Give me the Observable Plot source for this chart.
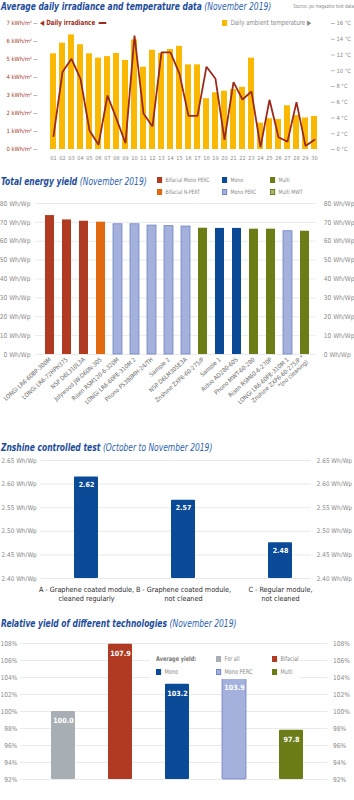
<!DOCTYPE html>
<html><head><meta charset="utf-8">
<script src="https://cdn.jsdelivr.net/npm/d3@7"></script>
<script src="https://cdn.jsdelivr.net/npm/@observablehq/plot@0.6"></script>
<style>
body{margin:0;background:#fff;}
#root{position:relative;width:354px;height:800px;overflow:hidden;font-family:"DejaVu Sans Condensed","DejaVu Sans",sans-serif;font-stretch:condensed;}
.abs{position:absolute;white-space:nowrap;}
.title{font-weight:bold;font-style:italic;color:#1c4c9a;font-size:10.5px;transform:scaleX(0.8);transform-origin:0 0;}
.title span{font-weight:normal;color:#2d5fae;}
.src{font-size:5.5px;color:#888;transform:scaleX(0.8);transform-origin:100% 0;}
.leg{font-size:6.5px;color:#8a8a8a;display:flex;align-items:center;transform:scaleX(0.85);transform-origin:0 0;}
.sw{display:inline-block;width:6px;height:6px;margin-right:4px;box-sizing:border-box;}
</style></head>
<body><div id="root"></div>
<script>
// ---------- Chart 1 data ----------
const days = ["01","02","03","04","05","06","07","08","09","10","11","12","13","14","15","16","17","18","19","20","21","22","23","24","25","26","27","28","29","30"];
const irradiance = [0.74,4.3,5.04,3.93,1.06,0.26,3.0,1.7,0.35,6.33,2.0,1.28,5.4,5.4,4.2,1.87,1.87,4.6,3.93,0.54,3.74,2.78,3.22,0.13,2.76,0.68,0.44,2.63,0.2,0.54];
const temperature = [12.15,13.5,14.55,13.3,12.15,11.6,11.8,12.2,11.3,13.9,10.45,12.6,12.2,12.7,13.1,10.75,10.75,6.45,7.2,7.4,7.6,7.9,11.6,3.35,3.9,3.8,5.55,4.3,4.0,4.2];
const irrTicks = [0,1,2,3,4,5,6,7];
const tempTicks = [0,2,4,6,8,10,12,14,16];
const irrMax = 7, tempMax = 16;

// ---------- Chart 2 data ----------
const modules = ["LONGi LR6-60BP-300M","LONGi LR6-72HPH375","NSP D6L310L3A","Jolywood JW-D60N-305","Risen RSM120-6-320M","LONGi LR6-60PE-310M 2","Phono PS380MH-24/TH","Sample 2","NSP D6LM305E3A","Znshine ZXP6-60-275/P","Sample 1","Aiduo AD280-60S","Phono MWT-60-280","Risen RSM60-6-270P","LONGi LR6-60PE-310M 1","Znshine ZXP6-60-275/P *\n*(no cleaning)"];
const yields = [73.6,71.3,70.6,70.1,69.0,69.0,68.3,68.0,67.8,66.9,66.8,66.8,66.4,66.4,65.3,65.3];
const technologies = ["Bifacial Mono PERC","Bifacial Mono PERC","Bifacial Mono PERC","Bifacial N-PERT","Mono PERC","Mono PERC","Mono PERC","Mono PERC","Mono PERC","Multi","Mono","Mono","Multi","Multi","Mono PERC","Multi"];
const yieldTicks = [0,10,20,30,40,50,60,70,80];

// ---------- Chart 3 data ----------
const testGroups = ["A - Graphene coated module,\ncleaned regularly","B - Graphene coated module,\nnot cleaned","C - Regular module,\nnot cleaned"];
const testValues = [2.615,2.566,2.476];
const testLabels = ["2.62","2.57","2.48"];
const testTicks = [2.40,2.45,2.50,2.55,2.60,2.65];
const testBase = 2.40;

// ---------- Chart 4 data ----------
const techGroups = ["For all","Bifacial","Mono","Mono PERC","Multi"];
const relYield = [100.0,107.9,103.2,103.9,97.8];
const relTicks = [92,94,96,98,100,102,104,106,108];
const relBase = 92;

// ---------- styles ----------
const fills = {"Bifacial Mono PERC":"#b03b22","Bifacial N-PERT":"#e2690f","Mono":"#0b4a97","Mono PERC":"#a3b1dc","Multi":"#6c7d18","Multi MWT":"#a9b870","For all":"#a8afb4","Bifacial":"#b03b22"};
const strokes = {"Mono PERC":"#7284c4"};
const FONT = '"DejaVu Sans Condensed","DejaVu Sans",sans-serif';
const root = document.getElementById("root");
function place(el, top, left = 0) {
  const w = document.createElement("div");
  w.className = "abs"; w.style.top = top + "px"; w.style.left = left + "px";
  if (typeof el === "string") w.innerHTML = el; else w.appendChild(el);
  root.appendChild(w); return w;
}
const baseStyle = {fontFamily: FONT, fontStretch: "condensed", background: "transparent", overflow: "visible"};

// ---------- Chart 1 ----------
place('<div class="title">Average daily irradiance and temperature data <span>(November 2019)</span></div>', 0, 1);
const src = place('<div class="src">Source: pv magazine test data</div>', 3, 0);
src.style.left = "auto"; src.style.right = "0px";
place('<div class="leg" style="color:#a02e20;font-weight:bold;font-size:7.2px">&#9664; Daily irradiance <span style="display:inline-block;width:9px;height:2px;background:#9e2b1f;margin-left:4px"></span></div>', 18, 40);
place('<div class="leg" style="font-size:7.2px"><span class="sw" style="background:#fbb800"></span>Daily ambient temperature &#9654;</div>', 18, 222);
const d1 = days.map((d, i) => ({day: d, irr: irradiance[i], temp: temperature[i]}));
const t2k = irrMax / tempMax;
const c1 = Plot.plot({
  width: 354, height: 156, marginTop: 9, marginBottom: 21, marginLeft: 37.4, marginRight: 24.1,
  style: {...baseStyle, fontSize: "5.8px"},
  x: {domain: days, paddingInner: 0.38, paddingOuter: 0.19, axis: null},
  y: {domain: [0, irrMax], axis: null},
  marks: [
    Plot.barY(d1, {x: "day", y: d => d.temp * t2k, fill: "#fbb800"}),
    Plot.lineY(d1, {x: "day", y: "irr", stroke: "#9b2a1d", strokeWidth: 1.8, strokeLinejoin: "miter"}),
    Plot.axisY(irrTicks, {anchor: "left", label: null, tickSize: 4, tickPadding: 2, stroke: "#bbb", fill: "#a33a2a", tickFormat: d => `${d} kWh/m²`}),
    Plot.axisY(tempTicks.map(t => t * t2k), {anchor: "right", label: null, tickSize: 4, tickPadding: 2, stroke: "#bbb", fill: "#888", tickFormat: v => `${Math.round(v / t2k)} °C`}),
    Plot.axisX({label: null, tickSize: 0, tickPadding: 7, fill: "#888", fontSize: 5.5})
  ]
});
place(c1, 14);

// ---------- Chart 2 ----------
place('<div class="title">Total energy yield <span>(November 2019)</span></div>', 175, 1);
const leg2 = [["Bifacial Mono PERC",157,176],["Mono",222,176],["Multi",270,176],["Bifacial N-PERT",157,188],["Mono PERC",222,188],["Multi MWT",270,188]];
for (const [k, x, y] of leg2) {
  place(`<div class="leg" style="font-size:6px"><span class="sw" style="background:${fills[k]};${strokes[k] ? "border:0.7px solid " + strokes[k] : (k === "Multi MWT" ? "border:0.7px solid #6c7d18" : "")}"></span>${k}</div>`, y, x);
}
const d2 = modules.map((m, i) => ({name: m, value: yields[i], tech: technologies[i]}));
const c2 = Plot.plot({
  width: 354, height: 248, marginTop: 7, marginBottom: 90, marginLeft: 38, marginRight: 38.7,
  style: {...baseStyle, fontSize: "6.6px"},
  color: {type: "identity"},
  x: {domain: modules, paddingInner: 0.5, paddingOuter: 0.25, axis: null},
  y: {domain: [0, 80], axis: null},
  marks: [
    Plot.ruleY(yieldTicks, {stroke: "#e4e4e4", strokeWidth: 0.8, insetLeft: -3}),
    Plot.barY(d2, {x: "name", y: "value", fill: d => fills[d.tech], stroke: d => strokes[d.tech] || "none", strokeWidth: 0.8}),
    Plot.axisY(yieldTicks, {anchor: "left", label: null, tickSize: 0, tickPadding: 8, fill: "#8a8a8a", tickFormat: d => `${d} Wh/Wp`}),
    Plot.axisY(yieldTicks, {anchor: "right", label: null, tickSize: 0, tickPadding: 8, fill: "#8a8a8a", tickFormat: d => `${d} Wh/Wp`}),
    Plot.axisX({label: null, tickSize: 0, tickPadding: 4, tickRotate: -42, fill: "#6a6a6a", fontSize: 6, lineHeight: 1.1})
  ]
});
place(c2, 196);

// ---------- Chart 3 ----------
place('<div class="title">Znshine controlled test <span>(October to November 2019)</span></div>', 441, 1);
const d3data = testGroups.map((g, i) => ({g, v: testValues[i], label: testLabels[i]}));
const c3 = Plot.plot({
  width: 354, height: 158, marginTop: 8, marginBottom: 32, marginLeft: 36.25, marginRight: 25.25,
  style: {...baseStyle, fontSize: "6.4px"},
  x: {domain: testGroups, paddingInner: 0.754, paddingOuter: 0.377, axis: null},
  y: {domain: [testBase, 2.65], axis: null},
  marks: [
    Plot.ruleY(testTicks, {stroke: "#e4e4e4", strokeWidth: 0.8, insetLeft: 4, insetRight: 18}),
    Plot.barY(d3data, {x: "g", y1: testBase, y2: "v", fill: "#0b4a97", rx: 1}),
    Plot.text(d3data, {x: "g", y: "v", text: "label", dy: 8, fill: "white", fontWeight: "bold", fontSize: 7}),
    Plot.axisY(testTicks, {anchor: "left", label: null, tickSize: 0, tickPadding: 0, fill: "#8a8a8a", tickFormat: d => `${d.toFixed(2)} Wh/Wp`}),
    Plot.axisY(testTicks, {anchor: "right", label: null, tickSize: 0, tickPadding: -12.5, fill: "#8a8a8a", tickFormat: d => `${d.toFixed(2)} Wh/Wp`}),
    Plot.axisX({label: null, tickSize: 0, tickPadding: 8, fill: "#2a2a2a", fontSize: 7.2, lineHeight: 1.15})
  ]
});
place(c3, 452);

// ---------- Chart 4 ----------
place('<div class="title">Relative yield of different technologies <span>(November 2019)</span></div>', 617, 1);
const d4 = techGroups.map((g, i) => ({g, v: relYield[i]}));
const c4 = Plot.plot({
  width: 354, height: 152, marginTop: 8, marginBottom: 8, marginLeft: 33, marginRight: 33.5,
  style: {...baseStyle, fontSize: "6.6px"},
  color: {type: "identity"},
  x: {domain: techGroups, paddingInner: 0.583, paddingOuter: 0.29, axis: null},
  y: {domain: [relBase, 108], axis: null},
  marks: [
    Plot.ruleY(relTicks, {stroke: "#e4e4e4", strokeWidth: 0.8, insetLeft: -13, insetRight: -7}),
    Plot.barY(d4, {x: "g", y1: relBase, y2: "v", fill: d => fills[d.g], stroke: d => strokes[d.g] || "none", strokeWidth: 0.8, rx: 1}),
    Plot.text(d4, {x: "g", y: "v", text: d => d.v.toFixed(1), dy: 9, fill: "white", fontWeight: "bold", fontSize: 7.2}),
    Plot.axisY(relTicks, {anchor: "left", label: null, tickSize: 0, tickPadding: 16, fill: "#8a8a8a", tickFormat: d => `${d}%`}),
    Plot.axisY(relTicks, {anchor: "right", label: null, tickSize: 0, tickPadding: 12, fill: "#8a8a8a", tickFormat: d => `${d}%`})
  ]
});
place(c4, 635);
place('<div style="background:#fff;width:150px;height:27px"></div>', 652, 150);
place('<div class="leg" style="font-size:6.5px;color:#777;font-weight:bold">Average yield:</div>', 655, 156);
const leg4 = [["For all",216,655],["Bifacial",272,655],["Mono",156,668],["Mono PERC",216,668],["Multi",272,668]];
for (const [k, x, y] of leg4) {
  place(`<div class="leg" style="font-size:6.5px"><span class="sw" style="background:${fills[k]};${strokes[k] ? "border:0.7px solid " + strokes[k] : ""}"></span>${k}</div>`, y, x);
}
</script></body></html>
